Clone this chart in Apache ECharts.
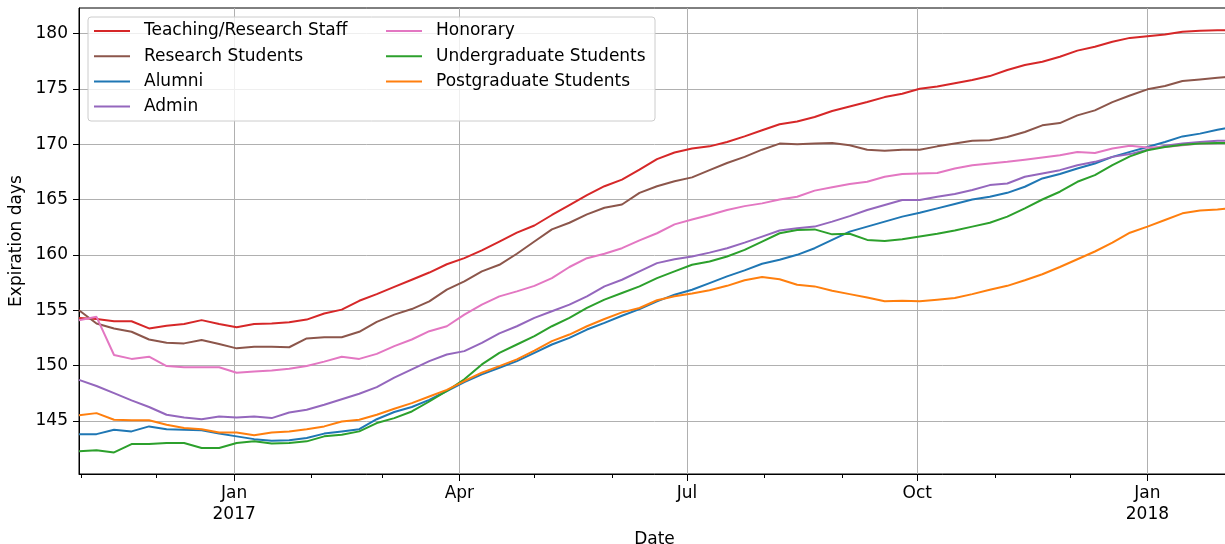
<!DOCTYPE html>
<html>
<head>
<meta charset="utf-8">
<script src="https://cdn.jsdelivr.net/npm/echarts@6/dist/echarts.min.js"></script>
<style>
  html, body { margin: 0; padding: 0; overflow: hidden; background: #ffffff; }
  #chart { width: 1230px; height: 544px; }
</style>
</head>
<body>
<div id="chart"></div>
<script>
// Weekly observation dates
const dates = [
  '2016-10-31','2016-11-07','2016-11-14','2016-11-21','2016-11-28','2016-12-05','2016-12-12','2016-12-19','2016-12-26',
  '2017-01-02','2017-01-09','2017-01-16','2017-01-23','2017-01-30','2017-02-06','2017-02-13','2017-02-20','2017-02-27',
  '2017-03-06','2017-03-13','2017-03-20','2017-03-27','2017-04-03','2017-04-10','2017-04-17','2017-04-24',
  '2017-05-01','2017-05-08','2017-05-15','2017-05-22','2017-05-29','2017-06-05','2017-06-12','2017-06-19','2017-06-26',
  '2017-07-03','2017-07-10','2017-07-17','2017-07-24','2017-07-31','2017-08-07','2017-08-14','2017-08-21','2017-08-28',
  '2017-09-04','2017-09-11','2017-09-18','2017-09-25','2017-10-02','2017-10-09','2017-10-16','2017-10-23','2017-10-30',
  '2017-11-06','2017-11-13','2017-11-20','2017-11-27','2017-12-04','2017-12-11','2017-12-18','2017-12-25',
  '2018-01-01','2018-01-08','2018-01-15','2018-01-22','2018-01-29','2018-02-03'
];

// Mean expiration days per user group
const teachingStaff = [
  154.3,154.2,154.0,154.0,153.35,153.6,153.75,154.1,153.75,
  153.45,153.75,153.8,153.9,154.15,154.7,155.05,155.85,156.45,
  157.1,157.75,158.4,159.15,159.7,160.4,161.2,162.0,
  162.65,163.6,164.5,165.4,166.2,166.8,167.7,168.65,169.25,
  169.6,169.8,170.2,170.7,171.25,171.8,172.05,172.45,173.0,
  173.4,173.8,174.25,174.55,175.0,175.2,175.5,175.8,176.15,
  176.7,177.15,177.45,177.9,178.45,178.8,179.25,179.6,
  179.75,179.9,180.15,180.25,180.3,180.3
];
const researchStudents = [
  155.0,153.8,153.35,153.05,152.35,152.05,152.0,152.3,151.95,
  151.55,151.7,151.7,151.65,152.45,152.55,152.55,153.05,153.95,
  154.6,155.1,155.8,156.85,157.6,158.5,159.1,160.1,
  161.2,162.3,162.9,163.65,164.25,164.55,165.6,166.2,166.65,
  167.0,167.65,168.3,168.85,169.5,170.05,170.0,170.05,170.1,
  169.9,169.5,169.4,169.5,169.5,169.8,170.05,170.3,170.35,
  170.65,171.1,171.7,171.9,172.6,173.05,173.8,174.4,
  174.95,175.25,175.7,175.85,176.0,176.1
];
const alumni = [
  143.8,143.8,144.2,144.05,144.5,144.25,144.2,144.15,143.85,
  143.6,143.35,143.2,143.25,143.45,143.85,144.05,144.25,145.15,
  145.8,146.25,146.9,147.7,148.5,149.2,149.8,150.4,
  151.15,151.9,152.5,153.25,153.85,154.5,155.1,155.8,156.4,
  156.85,157.45,158.05,158.6,159.2,159.55,160.0,160.6,161.35,
  162.1,162.55,163.0,163.45,163.8,164.2,164.6,165.0,165.25,
  165.6,166.15,166.9,167.3,167.8,168.25,168.85,169.3,
  169.75,170.2,170.7,170.95,171.3,171.5
];
const admin = [
  148.7,148.15,147.5,146.85,146.25,145.55,145.3,145.15,145.4,
  145.3,145.4,145.25,145.75,146.0,146.45,146.95,147.45,148.05,
  148.9,149.65,150.4,151.0,151.3,152.05,152.9,153.55,
  154.3,154.9,155.5,156.25,157.15,157.75,158.5,159.25,159.6,
  159.85,160.2,160.6,161.1,161.65,162.2,162.4,162.55,163.0,
  163.5,164.05,164.5,164.95,164.95,165.25,165.5,165.85,166.3,
  166.45,167.05,167.35,167.65,168.1,168.4,168.85,169.1,
  169.5,169.85,170.05,170.2,170.3,170.3
];
const honorary = [
  154.1,154.4,150.95,150.6,150.8,149.95,149.85,149.85,149.85,
  149.35,149.45,149.55,149.7,149.95,150.35,150.8,150.6,151.05,
  151.75,152.35,153.1,153.55,154.6,155.5,156.25,156.7,
  157.2,157.9,158.9,159.7,160.1,160.6,161.3,161.95,162.75,
  163.2,163.6,164.05,164.4,164.65,165.0,165.25,165.8,166.1,
  166.4,166.6,167.05,167.3,167.35,167.4,167.8,168.1,168.25,
  168.4,168.6,168.8,169.0,169.3,169.2,169.6,169.85,
  169.7,169.75,169.9,170.05,170.1,170.15
];
const undergraduates = [
  142.25,142.35,142.15,142.9,142.9,143.0,143.0,142.55,142.55,
  143.0,143.15,142.95,143.0,143.15,143.6,143.75,144.05,144.8,
  145.25,145.85,146.75,147.7,148.75,150.1,151.15,151.9,
  152.65,153.55,154.3,155.2,155.95,156.55,157.15,157.9,158.5,
  159.1,159.4,159.85,160.45,161.2,161.95,162.25,162.3,161.85,
  161.9,161.35,161.25,161.4,161.65,161.9,162.2,162.55,162.9,
  163.45,164.2,165.0,165.7,166.6,167.2,168.1,168.9,
  169.45,169.75,169.95,170.05,170.1,170.1
];
const postgraduates = [
  145.5,145.7,145.1,145.05,145.05,144.65,144.35,144.25,143.95,
  143.95,143.7,143.95,144.05,144.25,144.5,144.95,145.1,145.55,
  146.1,146.6,147.2,147.8,148.6,149.35,149.95,150.55,
  151.35,152.2,152.8,153.55,154.2,154.8,155.2,155.9,156.25,
  156.5,156.8,157.2,157.7,158.0,157.8,157.3,157.15,156.75,
  156.45,156.15,155.8,155.85,155.8,155.95,156.1,156.45,156.85,
  157.2,157.7,158.25,158.9,159.6,160.3,161.1,162.0,
  162.55,163.15,163.75,164.0,164.1,164.2
];

const seriesNames = [
  'Teaching/Research Staff', 'Research Students', 'Alumni', 'Admin',
  'Honorary', 'Undergraduate Students', 'Postgraduate Students'
];
const seriesValues = [teachingStaff, researchStudents, alumni, admin, honorary, undergraduates, postgraduates];
const seriesColors = ['#d62728', '#8c564b', '#1f77b4', '#9467bd', '#e377c2', '#2ca02c', '#ff7f0e'];

// Axis ticks
const majorTickDates = ['2017-01-01', '2017-04-01', '2017-07-01', '2017-10-01', '2018-01-01'];
const majorTickLabels = ['Jan\n2017', 'Apr', 'Jul', 'Oct', 'Jan\n2018'];
const minorTickDates = ['2016-11-01', '2016-12-01', '2017-02-01', '2017-03-01', '2017-05-01', '2017-06-01',
                        '2017-08-01', '2017-09-01', '2017-11-01', '2017-12-01', '2018-02-01'];
const yTicks = [145, 150, 155, 160, 165, 170, 175, 180];
const xRange = ['2016-10-31', '2018-02-03'];
const yRange = [140.2, 182.3];

const ms = s => new Date(s + 'T00:00:00Z').getTime();
const majorMs = majorTickDates.map(ms);

const FONT = 'DejaVu Sans';
const FS = 17;
const chart = echarts.init(document.getElementById('chart'), null, { renderer: 'canvas' });

const series = seriesNames.map((name, i) => ({
  name: name,
  type: 'line',
  xAxisIndex: 0,
  yAxisIndex: 0,
  symbol: 'none',
  showSymbol: false,
  animation: false,
  lineStyle: { width: 2, color: seriesColors[i] },
  itemStyle: { color: seriesColors[i] },
  data: dates.map((d, k) => [ms(d), seriesValues[i][k]])
}));

const legendText = {
  fontFamily: FONT, fontSize: FS, color: '#000', lineHeight: 17, padding: [0, 0, 0, 9]
};
const legendCommon = {
  z: 60, orient: 'vertical', top: 22.5, padding: 0,
  itemWidth: 36, itemHeight: 2, itemGap: 8.2,
  icon: 'rect', textStyle: legendText, selectedMode: false
};

chart.setOption({
  animation: false,
  backgroundColor: '#ffffff',
  textStyle: { fontFamily: FONT },
  grid: {
    left: 79, right: 0, top: 8, bottom: 70,
    outerBoundsMode: 'none', containLabel: false,
    show: true, borderColor: '#000', borderWidth: 1, backgroundColor: 'transparent'
  },
  graphic: [{
    type: 'rect', z: 50, silent: true,
    shape: { x: 88, y: 17, width: 567, height: 104, r: 3 },
    style: { fill: 'rgba(255,255,255,0.8)', stroke: '#cccccc', lineWidth: 1 }
  }],
  legend: [
    Object.assign({}, legendCommon, { left: 94, data: seriesNames.slice(0, 4) }),
    Object.assign({}, legendCommon, { left: 386, data: seriesNames.slice(4) })
  ],
  xAxis: [
    {
      type: 'value', position: 'bottom',
      min: ms(xRange[0]), max: ms(xRange[1]),
      name: 'Date', nameLocation: 'middle', nameGap: 57,
      nameTextStyle: { fontFamily: FONT, fontSize: FS, color: '#000' },
      axisLine: { show: true, onZero: false, lineStyle: { color: '#000', width: 1 } },
      axisTick: { show: true, length: 7, customValues: majorMs, lineStyle: { color: '#000', width: 1 } },
      axisLabel: {
        show: true, customValues: majorMs, margin: 9,
        fontFamily: FONT, fontSize: FS, color: '#000', lineHeight: 21,
        formatter: v => {
          const i = majorMs.indexOf(v);
          return i >= 0 ? majorTickLabels[i] : '';
        }
      },
      splitLine: { show: true, lineStyle: { color: '#b0b0b0', width: 1 } }
    },
    {
      type: 'value', position: 'bottom',
      min: ms(xRange[0]), max: ms(xRange[1]),
      axisLine: { show: false },
      axisTick: { show: true, length: 4, customValues: minorTickDates.map(ms), lineStyle: { color: '#000', width: 1 } },
      axisLabel: { show: false },
      splitLine: { show: false }
    }
  ],
  yAxis: {
    type: 'value', min: yRange[0], max: yRange[1],
    name: 'Expiration days', nameLocation: 'middle', nameGap: 50,
    nameTextStyle: { fontFamily: FONT, fontSize: FS, color: '#000' },
    axisLine: { show: true, onZero: false, lineStyle: { color: '#000', width: 1 } },
    axisTick: { show: true, length: 6, customValues: yTicks, lineStyle: { color: '#000', width: 1 } },
    axisLabel: {
      show: true, customValues: yTicks, margin: 11,
      fontFamily: FONT, fontSize: FS, color: '#000'
    },
    splitLine: { show: true, lineStyle: { color: '#b0b0b0', width: 1 } }
  },
  series: series
});
</script>
</body>
</html>
